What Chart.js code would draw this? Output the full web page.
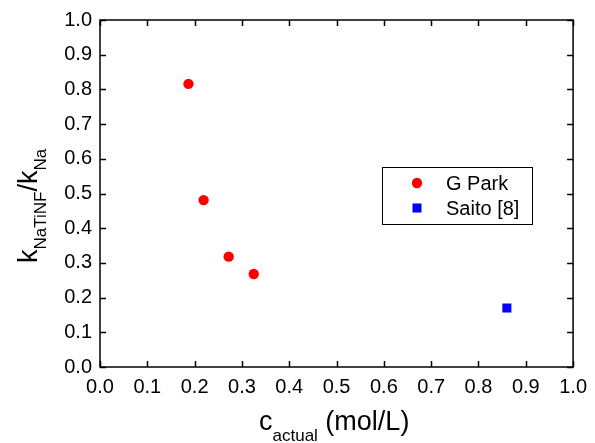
<!DOCTYPE html>
<html>
<head>
<meta charset="utf-8">
<script src="https://cdn.jsdelivr.net/npm/chart.js@4"></script>
<style>
  html, body { margin: 0; padding: 0; background: #fff; }
  canvas { display: block; }
</style>
</head>
<body>
<canvas id="chart" width="595" height="443"></canvas>
<script>
// data
const parkX = [0.187, 0.219, 0.272, 0.325];
const parkY = [0.816, 0.481, 0.318, 0.268];
const saitoX = [0.860];
const saitoY = [0.170];
const xTickLabels = ['0.0', '0.1', '0.2', '0.3', '0.4', '0.5', '0.6', '0.7', '0.8', '0.9', '1.0'];
const yTickLabels = ['0.0', '0.1', '0.2', '0.3', '0.4', '0.5', '0.6', '0.7', '0.8', '0.9', '1.0'];

const FONT = '"Liberation Sans", Arial, sans-serif';

const toPoints = (xs, ys) => xs.map((x, i) => ({ x: x, y: ys[i] }));

// frame, inward ticks on all four sides, axis titles with subscripts, legend in the plot
const decor = {
  id: 'decor',
  afterDraw(chart) {
    const c = chart.ctx;
    const a = chart.chartArea;
    const xs = chart.scales.x, ys = chart.scales.y;
    c.save();
    c.strokeStyle = '#000';
    c.lineWidth = 1.5;
    c.strokeRect(a.left, a.top, a.right - a.left, a.bottom - a.top);

    const len = 6;
    c.beginPath();
    xs.ticks.forEach(t => {
      const px = Math.round(xs.getPixelForValue(t.value)) + 0.5;
      c.moveTo(px, a.bottom); c.lineTo(px, a.bottom - len);
      c.moveTo(px, a.top); c.lineTo(px, a.top + len);
    });
    ys.ticks.forEach(t => {
      const py = Math.round(ys.getPixelForValue(t.value)) + 0.5;
      c.moveTo(a.left, py); c.lineTo(a.left + len, py);
      c.moveTo(a.right, py); c.lineTo(a.right - len, py);
    });
    c.stroke();

    // x title: c_actual (mol/L)
    c.fillStyle = '#000';
    c.textBaseline = 'alphabetic';
    c.textAlign = 'left';
    let x = a.left + 159;
    const yb = a.bottom + 63;
    c.font = '27px ' + FONT;
    c.fillText('c', x, yb);
    x += c.measureText('c').width;
    c.font = '17px ' + FONT;
    c.fillText('actual', x, yb + 11);
    x += c.measureText('actual').width;
    c.font = '27px ' + FONT;
    c.fillText(' (mol/L)', x, yb);

    // y title: k_NaTiNF/k_Na
    c.save();
    c.translate(37, 263);
    c.rotate(-Math.PI / 2);
    let p = 0;
    const parts = [['k', 27, 0], ['NaTiNF', 17, 9], ['/k', 27, 0], ['Na', 17, 9]];
    parts.forEach(([s, size, off]) => {
      c.font = size + 'px ' + FONT;
      c.fillText(s, p, off);
      p += c.measureText(s).width;
    });
    c.restore();

    // legend
    const lx = a.left + 282, ly = a.top + 147, lw = 150, lh = 57;
    c.lineWidth = 1;
    c.strokeRect(lx + 0.5, ly + 0.5, lw, lh);
    c.font = '20px ' + FONT;
    c.textBaseline = 'middle';
    chart.data.datasets.forEach((ds, i) => {
      const ry = ly + 16 + i * 25;
      c.fillStyle = ds.backgroundColor;
      Chart.helpers.drawPoint(c, {
        pointStyle: ds.pointStyle, radius: ds.pointRadius, borderWidth: 0
      }, lx + 35, ry);
      c.fillStyle = '#000';
      c.fillText(ds.label, lx + 64, ry + 1);
    });
    c.restore();
  }
};

new Chart(document.getElementById('chart'), {
  type: 'scatter',
  data: {
    datasets: [
      {
        label: 'G Park',
        data: toPoints(parkX, parkY),
        pointStyle: 'circle',
        pointRadius: 5.2,
        pointHoverRadius: 5.2,
        backgroundColor: '#ff0000',
        borderWidth: 0
      },
      {
        label: 'Saito [8]',
        data: toPoints(saitoX, saitoY),
        pointStyle: 'rect',
        pointRadius: 6.4,
        pointHoverRadius: 6.4,
        backgroundColor: '#0000ff',
        borderWidth: 0
      }
    ]
  },
  options: {
    responsive: false,
    animation: false,
    devicePixelRatio: 1,
    layout: { padding: { left: 0, top: 19, right: 21, bottom: 0 } },
    plugins: { legend: { display: false }, tooltip: { enabled: false } },
    scales: {
      x: {
        type: 'linear',
        min: 0, max: 1,
        grid: { display: false, drawTicks: false },
        border: { display: false },
        ticks: {
          stepSize: 0.1,
          padding: 8,
          color: '#000',
          font: { family: FONT, size: 20 },
          maxRotation: 0,
          autoSkip: false,
          callback: (v, i) => xTickLabels[i]
        },
        afterFit: s => { s.height = 76; }
      },
      y: {
        type: 'linear',
        min: 0, max: 1,
        grid: { display: false, drawTicks: false },
        border: { display: false },
        ticks: {
          stepSize: 0.1,
          padding: 8,
          color: '#000',
          font: { family: FONT, size: 20 },
          autoSkip: false,
          callback: (v, i) => yTickLabels[i]
        },
        afterFit: s => { s.width = 100; }
      }
    }
  },
  plugins: [decor]
});
</script>
</body>
</html>
